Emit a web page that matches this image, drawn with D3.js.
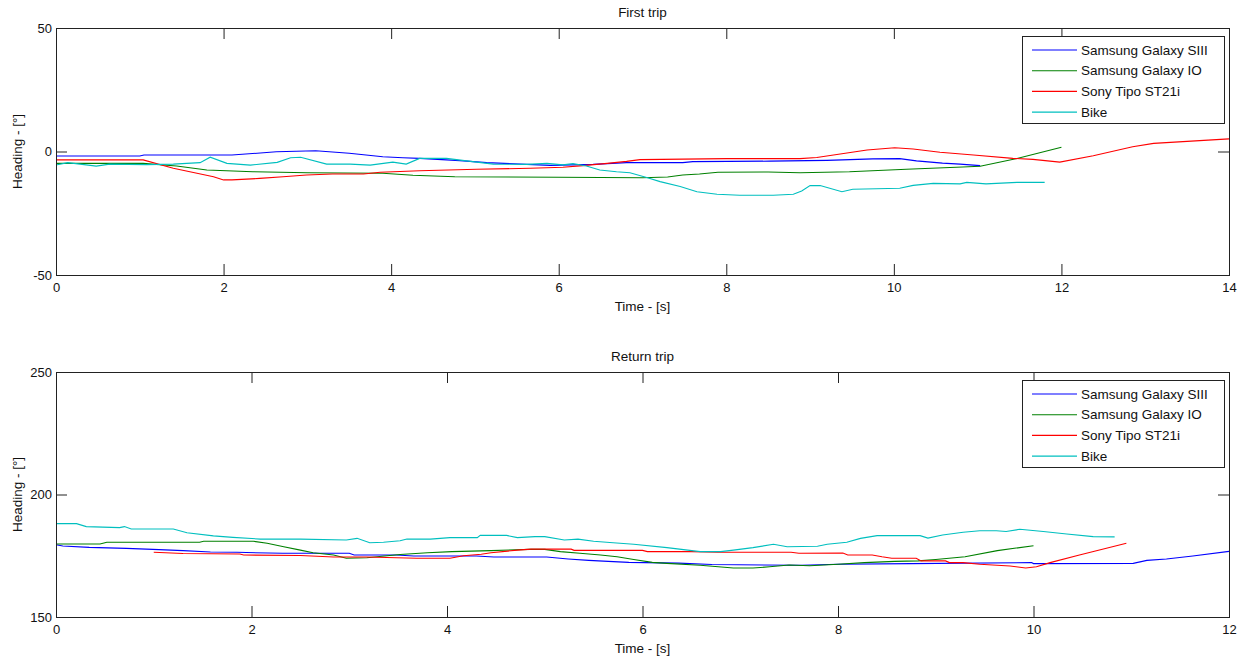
<!DOCTYPE html>
<html>
<head>
<meta charset="utf-8">
<script src="https://cdn.jsdelivr.net/npm/d3@7"></script>
<style>
  body { margin: 0; background: #fff; }
  svg { display: block; font-family: "Liberation Sans", Arial, sans-serif; }
</style>
</head>
<body>
<script>
const seriesNames = ['Samsung Galaxy SIII', 'Samsung Galaxy IO', 'Sony Tipo ST21i', 'Bike'];
const seriesColors = ['#0000ff', '#008000', '#ff0000', '#00bfbf'];

// first trip, [time s, heading deg]
const firstSIII = [[0,-1.8],[1.0,-1.8],[1.05,-1.4],[2.1,-1.4],[2.4,-0.7],[2.63,-0.1],[3.1,0.3],[3.3,-0.2],[3.5,-0.7],[3.7,-1.4],[3.9,-2.1],[4.14,-2.5],[4.34,-2.8],[4.82,-3.7],[5.14,-4.5],[5.62,-5.2],[5.9,-5.6],[6.41,-5.2],[6.81,-4.5],[7.48,-4.5],[7.6,-4.1],[8.52,-3.9],[9.2,-3.6],[9.75,-3.0],[10.07,-2.9],[10.27,-3.8],[10.58,-4.7],[10.79,-5.1],[11.03,-5.7]];
const firstIO = [[0,-4.8],[1.04,-4.8],[1.44,-5.9],[1.8,-7.5],[2.35,-8.2],[3.0,-8.6],[3.9,-8.8],[4.26,-9.6],[4.76,-10.2],[6.0,-10.4],[7.0,-10.6],[7.3,-10.3],[7.48,-9.5],[7.68,-9.1],[7.9,-8.4],[8.5,-8.3],[8.88,-8.6],[9.47,-8.2],[10.15,-7.2],[10.82,-6.3],[11.03,-6.0],[11.47,-2.8],[12.0,1.7]];
const firstSony = [[0,-3.4],[1.04,-3.4],[1.4,-6.8],[1.88,-10.2],[2.0,-11.5],[2.1,-11.5],[2.43,-10.9],[2.71,-10.2],[2.99,-9.5],[3.3,-9.1],[3.67,-9.1],[3.87,-8.4],[4.34,-7.8],[5.02,-7.2],[5.66,-6.8],[6.05,-6.4],[6.29,-5.7],[6.58,-4.8],[6.81,-4.0],[6.97,-3.3],[8.0,-2.9],[8.88,-2.9],[9.08,-2.4],[9.36,-1.0],[9.68,0.6],[10.01,1.5],[10.23,1.0],[10.55,-0.3],[10.95,-1.4],[11.42,-2.8],[11.66,-3.2],[11.98,-4.3],[12.38,-1.7],[12.85,1.9],[13.1,3.3],[13.45,4.0],[14.0,5.1]];
const firstBike = [[0,-5.5],[0.14,-4.5],[0.48,-5.9],[0.64,-5.1],[1.08,-5.3],[1.4,-5.1],[1.72,-4.5],[1.84,-2.3],[2.04,-4.8],[2.32,-5.5],[2.64,-4.4],[2.8,-2.5],[2.92,-2.3],[3.23,-5.1],[3.51,-5.1],[3.75,-5.5],[4.02,-4.3],[4.18,-5.1],[4.34,-2.8],[4.66,-2.8],[4.9,-3.8],[5.22,-5.1],[5.62,-5.2],[5.86,-4.8],[6.05,-5.4],[6.17,-4.9],[6.33,-5.9],[6.49,-7.5],[6.69,-8.2],[6.85,-8.6],[7.05,-10.5],[7.21,-12.2],[7.45,-14.2],[7.65,-16.3],[7.89,-17.3],[8.16,-17.7],[8.56,-17.7],[8.8,-17.3],[8.9,-16],[9.0,-13.8],[9.12,-13.8],[9.38,-16.3],[9.51,-15.3],[10.07,-14.9],[10.23,-13.7],[10.47,-12.9],[10.79,-13.1],[10.87,-12.5],[11.1,-13.1],[11.47,-12.5],[11.8,-12.5]];

// return trip
const returnSIII = [[0,179.5],[0.07,179.0],[0.34,178.4],[0.72,178.0],[0.99,177.6],[1.3,177.1],[1.58,176.5],[1.85,176.4],[2.32,176.0],[3.0,176.0],[3.05,175.3],[3.48,175.3],[3.66,174.9],[4.3,174.9],[4.48,174.5],[5.02,174.5],[5.24,173.7],[5.45,173.1],[5.65,172.7],[5.86,172.3],[6.37,172.0],[6.71,171.4],[7.62,171.1],[8.0,171.5],[8.74,171.8],[9.98,172.2],[10.0,171.8],[11.02,171.9],[11.16,173.1],[11.36,173.7],[11.63,174.9],[12.0,176.8]];
const returnIO = [[0,179.8],[0.45,179.8],[0.52,180.5],[1.47,180.5],[1.51,180.9],[2.02,180.9],[2.16,180.1],[2.33,178.7],[2.5,177.3],[2.63,176.2],[2.84,175.3],[2.97,174.0],[3.18,174.2],[3.52,175.5],[3.8,176.2],[4.05,176.7],[4.45,177.1],[4.85,177.6],[5.0,177.6],[5.16,176.7],[5.36,176.0],[5.57,175.3],[5.74,174.6],[5.91,173.5],[6.1,172.3],[6.25,171.9],[6.59,171.1],[6.93,170.0],[7.13,170.0],[7.3,170.5],[7.5,171.2],[7.71,170.9],[8.0,171.5],[8.27,172.2],[8.58,172.7],[8.82,172.9],[9.0,173.5],[9.3,174.6],[9.63,177.1],[10.0,179.1]];
const returnSony = [[1.0,176.4],[1.3,175.9],[1.88,175.7],[1.92,175.3],[2.5,175.1],[2.84,174.5],[3.18,174.5],[3.69,174.0],[4.03,174.0],[4.17,175.0],[4.35,175.6],[4.45,176.2],[4.62,176.9],[4.72,177.3],[4.86,177.7],[5.27,177.7],[5.3,177.2],[6.0,177.2],[6.05,176.7],[6.5,176.7],[6.77,176.4],[7.52,176.4],[7.6,176.0],[8.05,176.1],[8.1,175.3],[8.35,175.3],[8.45,174.6],[8.55,174.0],[8.8,174.0],[8.85,172.9],[9.1,172.9],[9.14,172.2],[9.28,172.2],[9.45,171.5],[9.76,170.8],[9.92,170.0],[10.03,170.5],[10.17,172.2],[10.47,175.3],[10.95,180.1]];
const returnBike = [[0,188.1],[0.21,188.1],[0.31,186.9],[0.65,186.5],[0.7,186.9],[0.77,185.9],[1.2,185.9],[1.34,184.4],[1.61,183.1],[1.81,182.5],[2.09,181.8],[2.5,181.8],[2.97,181.4],[3.08,182.1],[3.21,180.3],[3.35,180.5],[3.52,181.1],[3.59,181.8],[3.83,181.8],[4.03,182.4],[4.31,182.4],[4.34,183.3],[4.61,183.3],[4.72,182.4],[4.9,182.8],[5.0,182.8],[5.2,181.4],[5.34,181.8],[5.5,180.9],[5.7,180.3],[5.91,179.7],[6.25,178.3],[6.59,176.7],[6.8,176.7],[6.93,177.3],[7.13,178.3],[7.34,179.7],[7.48,178.7],[7.79,178.9],[7.89,179.7],[8.09,180.5],[8.23,182.1],[8.4,183.2],[8.84,183.2],[8.92,182.2],[9.07,183.5],[9.28,184.6],[9.45,185.2],[9.62,185.2],[9.72,184.9],[9.86,185.8],[10.1,184.9],[10.34,183.9],[10.61,182.8],[10.83,182.7]];

const firstXTicks = [0, 2, 4, 6, 8, 10, 12, 14];
const firstYTicks = [-50, 0, 50];
const returnXTicks = [0, 2, 4, 6, 8, 10, 12];
const returnYTicks = [150, 200, 250];

const W = 1248, H = 663;
const svg = d3.select('body').append('svg').attr('width', W).attr('height', H);

const panels = [
    { title: 'First trip', top: 28, bottom: 275, xDomain: [0, 14], yDomain: [-50, 50],
      xTicks: firstXTicks, yTicks: firstYTicks, series: [firstSIII, firstIO, firstSony, firstBike] },
    { title: 'Return trip', top: 372, bottom: 617, xDomain: [0, 12], yDomain: [150, 250],
      xTicks: returnXTicks, yTicks: returnYTicks, series: [returnSIII, returnIO, returnSony, returnBike] }
];

const left = 56, right = 1229, tickLen = 11;
// matlab prints a plain hyphen for negatives
const plainFormat = d => String(d);

const drawPanel = p => {
    const x = d3.scaleLinear().domain(p.xDomain).range([left, right]);
    const y = d3.scaleLinear().domain(p.yDomain).range([p.bottom, p.top]);
    const g = svg.append('g');

    const line = d3.line().x(d => x(d[0])).y(d => y(d[1]));
    g.selectAll('path.series').
        data(p.series).
        enter().append('path').
        attr('class', 'series').
        attr('d', line).
        attr('fill', 'none').
        attr('stroke', (d, i) => seriesColors[i]).
        attr('stroke-width', 1.1);

    // axes with inward ticks on all four sides
    const bottomAxis = d3.axisBottom(x).tickValues(p.xTicks).tickFormat(plainFormat).tickSizeInner(-tickLen).tickSizeOuter(0).tickPadding(8);
    const topAxis = d3.axisTop(x).tickValues(p.xTicks).tickSizeInner(-tickLen).tickSizeOuter(0).tickFormat('');
    const leftAxis = d3.axisLeft(y).tickValues(p.yTicks).tickFormat(plainFormat).tickSizeInner(-tickLen).tickSizeOuter(0).tickPadding(4);
    const rightAxis = d3.axisRight(y).tickValues(p.yTicks).tickSizeInner(-tickLen).tickSizeOuter(0).tickFormat('');

    const axes = [
        g.append('g').attr('transform', `translate(0,${p.bottom})`).call(bottomAxis),
        g.append('g').attr('transform', `translate(0,${p.top})`).call(topAxis),
        g.append('g').attr('transform', `translate(${left},0)`).call(leftAxis),
        g.append('g').attr('transform', `translate(${right},0)`).call(rightAxis)
    ];
    axes.forEach(a => {
        a.select('.domain').remove();
        a.selectAll('line').attr('stroke', '#222');
        a.selectAll('text').attr('fill', '#111').style('font-size', '13px').style('font-family', '"Liberation Sans", Arial, sans-serif');
    });
    axes[0].selectAll('text').attr('dy', '0.71em');

    g.append('rect').
        attr('x', left + 0.5).attr('y', p.top + 0.5).
        attr('width', right - left).attr('height', p.bottom - p.top).
        attr('fill', 'none').attr('stroke', '#222').attr('stroke-width', 1);

    g.append('text').
        attr('x', (left + right) / 2).attr('y', p.top - 11).
        attr('text-anchor', 'middle').style('font-size', '13.5px').attr('fill', '#111').
        text(p.title);
    g.append('text').
        attr('x', (left + right) / 2).attr('y', p.bottom + 36).
        attr('text-anchor', 'middle').style('font-size', '13.5px').attr('fill', '#111').
        text('Time - [s]');
    g.append('text').
        attr('transform', `translate(22,${(p.top + p.bottom) / 2}) rotate(-90)`).
        attr('text-anchor', 'middle').style('font-size', '13.5px').attr('fill', '#111').
        text('Heading - [°]');

    // legend
    const lx = 1022, ly = p.top + 8;
    const lg = g.append('g').attr('transform', `translate(${lx},${ly})`);
    lg.append('rect').attr('x', 0.5).attr('y', 0.5).attr('width', 202).attr('height', 87).
        attr('fill', '#fff').attr('stroke', '#222');
    const item = lg.selectAll('g.item').
        data(seriesNames).
        enter().append('g').
        attr('class', 'item').
        attr('transform', (d, i) => `translate(0,${14 + i * 20.7})`);
    item.append('line').attr('x1', 10).attr('x2', 55).attr('y1', 0).attr('y2', 0).
        attr('stroke', (d, i) => seriesColors[i]).attr('stroke-width', 1.1);
    item.append('text').attr('x', 59).attr('y', 0).attr('dy', '0.35em').
        style('font-size', '13.5px').attr('fill', '#111').text(d => d);
};

panels.forEach(drawPanel);
</script>
</body>
</html>
